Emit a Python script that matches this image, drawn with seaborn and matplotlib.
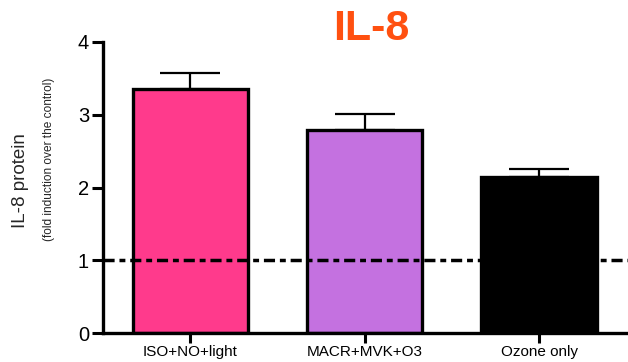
import matplotlib
matplotlib.use("Agg")
import matplotlib.pyplot as plt
import seaborn as sns
import pandas as pd

# Data
categories = ["ISO+NO+light", "MACR+MVK+O3", "Ozone only"]
means = [3.36, 2.79, 2.15]
sem_upper = [0.21, 0.22, 0.10]
bar_colors = ["#FF3A8C", "#C471E0", "#000000"]
y_ticks = [0, 1, 2, 3, 4]
baseline = 1.0

sns.set_theme(style="ticks")
plt.rcParams["font.family"] = ["Liberation Sans", "DejaVu Sans"]

df = pd.DataFrame({"group": categories, "value": means})

fig = plt.figure(figsize=(6.28, 3.62), dpi=100)
ax = fig.add_axes([0.164, 0.080, 0.836, 0.804])

sns.barplot(data=df, x="group", y="value", hue="group",
            palette=dict(zip(categories, bar_colors)), legend=False,
            saturation=1, width=0.66, errorbar=None, ax=ax, zorder=2)

for patch in ax.patches:
    patch.set_edgecolor("black")
    patch.set_linewidth(2.4)

# Upper-only error bars
ax.errorbar(range(len(categories)), means, yerr=[[0] * len(means), sem_upper],
            fmt="none", ecolor="black", elinewidth=1.6, capsize=21.6,
            capthick=1.6, zorder=3)

# Control level reference line
ax.axhline(baseline, color="black", lw=2.5,
           linestyle=(0, (3.2, 1.4, 1.7, 1.4)), zorder=4)

ax.set_xlim(-0.5, 2.51)
ax.set_ylim(0, 4)
ax.set_yticks(y_ticks)
ax.set_xlabel("")
ax.set_ylabel("")
ax.tick_params(axis="y", length=8, width=2.2, labelsize=14.5, pad=2, colors="black")
ax.tick_params(axis="x", length=7, width=2.2, labelsize=11, pad=1.5, colors="black")

for side in ["top", "right"]:
    ax.spines[side].set_visible(False)
for side in ["left", "bottom"]:
    ax.spines[side].set_linewidth(2.4)
    ax.spines[side].set_color("black")

fig.text(21 / 628, 1 - 181 / 362, "IL-8 protein", rotation=90,
         ha="center", va="center", fontsize=13.5)
fig.text(49 / 628, 1 - 159 / 362, "(fold induction over the control)",
         rotation=90, ha="center", va="center", fontsize=8.6)

fig.text(371 / 628, 1 - 29 / 362, "IL-8", ha="center", va="center",
         fontsize=31, fontweight="bold", color="#FF5010")

fig.savefig("out.png", dpi=100)
